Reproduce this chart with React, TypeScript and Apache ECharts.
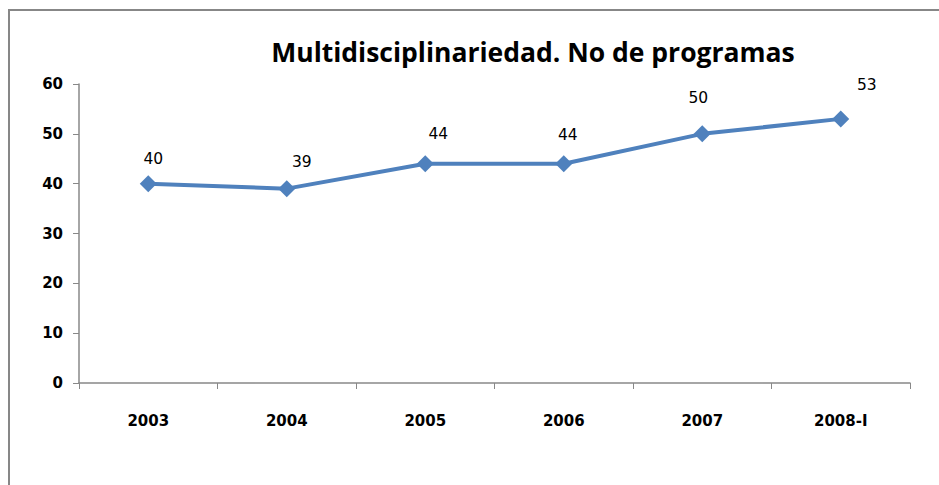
import React, { useEffect, useRef } from "react";
import * as echarts from "echarts";

const titleText = "Multidisciplinariedad. No de programas";
const categories = ["2003", "2004", "2005", "2006", "2007", "2008-I"];
const values = [40, 39, 44, 44, 50, 53];
const yTicks = { min: 0, max: 60, interval: 10 };
// label nudges (style only)
const labelOffsets: [number, number][] = [
  [5, -3],
  [15, -5],
  [13, -8],
  [4, -7],
  [-4, -14],
  [26, -12],
];

export default function App() {
  const ref = useRef<HTMLDivElement>(null);
  useEffect(() => {
    if (!ref.current) return;
    const chart = echarts.init(ref.current, null, { renderer: "svg" });
    chart.setOption({
      animation: false,
      backgroundColor: "#ffffff",
      title: {
        text: titleText,
        left: 528,
        textAlign: "center",
        top: 33,
        textStyle: {
          fontFamily: "Open Sans",
          fontWeight: "bold",
          fontSize: 26.5,
          color: "#000",
        },
      },
      graphic: [
        {
          type: "rect",
          shape: { x: 9, y: 10, width: 1000, height: 1000 },
          style: { fill: "none", stroke: "#878787", lineWidth: 2 },
          silent: true,
        },
      ],
      grid: { left: 79, right: 29, top: 84, bottom: 102, containLabel: false },
      xAxis: {
        type: "category",
        data: categories,
        boundaryGap: true,
        axisLine: { lineStyle: { color: "#888", width: 1.5 } },
        axisTick: { show: true, length: 6, alignWithLabel: false, lineStyle: { color: "#888" } },
        axisLabel: {
          margin: 30,
          fontFamily: "DejaVu Sans",
          fontWeight: "bold",
          fontSize: 15,
          color: "#000",
        },
        splitLine: { show: false },
      },
      yAxis: {
        type: "value",
        min: yTicks.min,
        max: yTicks.max,
        interval: yTicks.interval,
        axisLine: { show: true, lineStyle: { color: "#888", width: 1.5 } },
        axisTick: { show: true, length: 6, lineStyle: { color: "#888" } },
        axisLabel: {
          margin: 16,
          fontFamily: "DejaVu Sans",
          fontWeight: "bold",
          fontSize: 15,
          color: "#000",
        },
        splitLine: { show: false },
      },
      series: [
        {
          type: "line",
          data: values.map((v, i) => ({
            value: v,
            label: { offset: labelOffsets[i] },
          })),
          symbol: "diamond",
          symbolSize: 17,
          lineStyle: { color: "#4F81BD", width: 4 },
          itemStyle: { color: "#4F81BD" },
          label: {
            show: true,
            position: "top",
            distance: 5,
            fontFamily: "DejaVu Sans",
            fontSize: 15.5,
            color: "#000",
          },
        },
      ],
    });
    return () => chart.dispose();
  }, []);
  return (
    <div
      ref={ref}
      style={{ position: "fixed", left: 0, top: 0, width: 939, height: 485 }}
    />
  );
}
